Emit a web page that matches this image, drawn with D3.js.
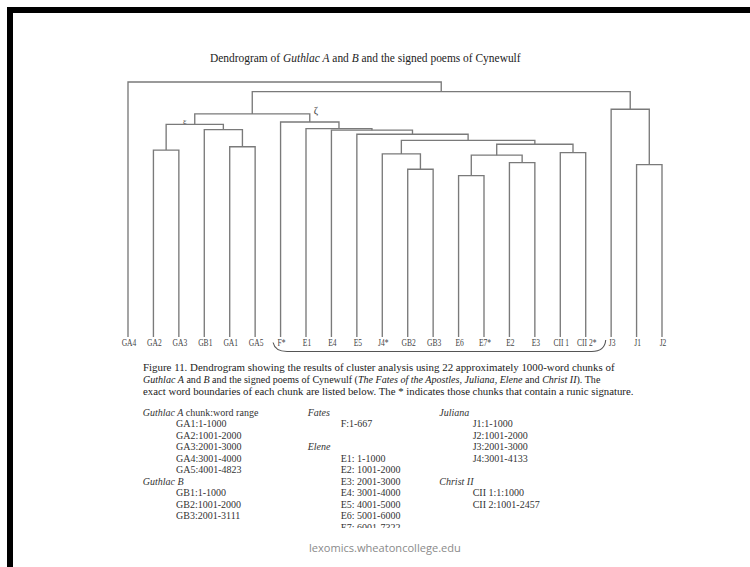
<!DOCTYPE html>
<html>
<head>
<meta charset="utf-8">
<script src="https://cdn.jsdelivr.net/npm/d3@7"></script>
<style>
  html, body { margin: 0; padding: 0; background: #fff; }
  svg { display: block; }
  text { font-family: "Liberation Serif", "DejaVu Serif", serif; }
</style>
</head>
<body>
<svg id="chart" width="750" height="567"></svg>
<script>
// ---------------- DATA ----------------
const leafLabels = ["GA4","GA2","GA3","GB1","GA1","GA5","F*","E1","E4","E5","J4*",
                    "GB2","GB3","E6","E7*","E2","E3","CII 1","CII 2*","J3","J1","J2"];

// linkage: [left, right, height]  (ids "m#" refer to earlier merges)
const mergeLeft   = ["E6","GB2","J1","E2","m0","J4*","CII 1","GA2","GA1","m4","m5","E5","E4","GB1","E1","m7","F*","m15","J3","m17","GA4"];
const mergeRight  = ["E7*","GB3","J2","E3","m3","m1","CII 2*","GA3","GA5","m6","m9","m10","m11","m8","m12","m13","m14","m16","m2","m18","m19"];
const mergeHeight = [0.633,0.658,0.676,0.684,0.713,0.718,0.723,0.733,0.746,0.756,0.771,0.795,0.811,0.813,0.817,0.834,0.843,0.875,0.893,0.962,1.000];

const nodeTags = [{id:"m15", tag:"ε"}, {id:"m16", tag:"ζ"}];

const titleParts = [["Dendrogram of ",false],["Guthlac A",true],[" and ",false],["B",true],[" and the signed poems of Cynewulf",false]];

const captionLines = [
  [["Figure 11. Dendrogram showing the results of cluster analysis using 22 approximately 1000-word chunks of",false]],
  [["Guthlac A",true],[" and ",false],["B",true],[" and the signed poems of Cynewulf (",false],["The Fates of the Apostles",true],[", ",false],["Juliana",true],[", ",false],["Elene",true],[" and ",false],["Christ II",true],["). The",false]],
  [["exact word boundaries of each chunk are listed below. The * indicates those chunks that contain a runic signature.",false]]
];

// table columns: [text, isHeading]
const colGuthlac = [["Guthlac A|chunk:word range",true],["GA1:1-1000",false],["GA2:1001-2000",false],["GA3:2001-3000",false],["GA4:3001-4000",false],["GA5:4001-4823",false],["Guthlac B|",true],["GB1:1-1000",false],["GB2:1001-2000",false],["GB3:2001-3111",false]];
const colFatesElene = [["Fates|",true],["F:1-667",false],["",false],["Elene|",true],["E1: 1-1000",false],["E2: 1001-2000",false],["E3: 2001-3000",false],["E4: 3001-4000",false],["E5: 4001-5000",false],["E6: 5001-6000",false],["E7: 6001-7322",false]];
const colJulianaChrist = [["Juliana|",true],["J1:1-1000",false],["J2:1001-2000",false],["J3:2001-3000",false],["J4:3001-4133",false],["",false],["Christ II|",true],["CII 1:1:1000",false],["CII 2:1001-2457",false]];

const bracketFrom = "F*", bracketTo = "CII 2*";
const sourceText = "lexomics.wheatoncollege.edu";

// ---------------- BUILD TREE ----------------
const nodes = {};
leafLabels.forEach(l => nodes[l] = {name:l, height:0});
mergeLeft.forEach((l,i) => {
  nodes["m"+i] = {name:"m"+i, height:mergeHeight[i], children:[nodes[l], nodes[mergeRight[i]]]};
});
const root = d3.hierarchy(nodes["m"+(mergeLeft.length-1)]);

const svg = d3.select("#chart");

// frame (black L border)
svg.append("rect").attr("x",7).attr("y",7).attr("width",743).attr("height",6).attr("fill","#000");
svg.append("rect").attr("x",7).attr("y",7).attr("width",6).attr("height",560).attr("fill","#000");

const x = d3.scalePoint().domain(leafLabels).range([128, 662]);
const y = d3.scaleLinear().domain([0, 1]).range([337, 82]);

root.eachAfter(n => {
  if (!n.children) n.px = x(n.data.name);
  else n.px = d3.mean(n.children, c => c.px);
  n.py = y(n.data.height);
});

const g = svg.append("g");
root.descendants().filter(n => n.children).forEach(n => {
  const [a,b] = n.children;
  const p = d3.path();
  p.moveTo(a.px, a.py); p.lineTo(a.px, n.py); p.lineTo(b.px, n.py); p.lineTo(b.px, b.py);
  g.append("path").attr("d", p.toString()).attr("fill","none")
    .attr("stroke","#7a7a7a").attr("stroke-width",1.35);
});

// node tags
nodeTags.forEach(t => {
  const n = root.descendants().find(d => d.data.name === t.id);
  if (t.tag === "ε") {
    svg.append("text").attr("x", n.px - 10).attr("y", n.py - 0.5).attr("font-size",8.5)
      .attr("text-anchor","middle").attr("fill","#555").text(t.tag);
  } else {
    svg.append("text").attr("x", n.px + 4).attr("y", n.py - 8).attr("font-size",10.5)
      .attr("text-anchor","start").attr("fill","#444").text(t.tag);
  }
});

// leaf labels
root.leaves().forEach(l => {
  svg.append("g").attr("transform", `translate(${l.px + 1},346) scale(0.72,1)`)
    .append("text").attr("text-anchor","middle").attr("font-size",10.5).attr("fill","#444")
    .text(l.data.name);
});

// bracket
{
  const x0 = x(bracketFrom) - 7.5, x1 = x(bracketTo) + 20;
  const p = d3.path();
  p.moveTo(x0, 342.5);
  p.quadraticCurveTo(x0 + 2, 351.5, x0 + 14, 351.5);
  p.lineTo(x1 - 14, 351.5);
  p.quadraticCurveTo(x1 - 1, 351.5, x1, 340);
  svg.append("path").attr("d", p.toString()).attr("fill","none").attr("stroke","#555").attr("stroke-width",1.1);
}

function richText(parent, parts, xx, yy, size, fill) {
  const t = parent.append("text").attr("x", xx).attr("y", yy).attr("font-size", size).attr("fill", fill);
  parts.forEach(([s, it]) => t.append("tspan").attr("font-style", it ? "italic" : "normal").text(s));
  return t;
}
function fitWidth(t, target, ax) {
  const w = t.node().getComputedTextLength();
  const k = target / w;
  t.attr("transform", `translate(${ax},0) scale(${k},1) translate(${-ax},0)`);
}

// title
const title = richText(svg, titleParts, 210, 62.5, 12.5, "#222");
fitWidth(title, 311, 210);

// caption
const capW = [472, 458, 491];
captionLines.forEach((parts, i) => {
  const t = richText(svg, parts, 143, 371 + i * 12, 11, "#222");
  fitWidth(t, capW[i], 143);
});

// table
svg.append("clipPath").attr("id","tclip").append("rect").attr("x",0).attr("y",400).attr("width",750).attr("height",128);
const tg = svg.append("g").attr("clip-path","url(#tclip)");
function column(rows, xh, xi) {
  rows.forEach(([s, head], i) => {
    if (!s) return;
    const yy = 415.8 + i * 11.5;
    if (head) {
      const [it, rest] = s.split("|");
      const t = tg.append("text").attr("x", xh).attr("y", yy).attr("font-size", 10).attr("fill","#333");
      t.append("tspan").attr("font-style","italic").text(it);
      if (rest) t.append("tspan").text(" " + rest);
    } else {
      tg.append("text").attr("x", xi).attr("y", yy).attr("font-size", 10).attr("fill","#333").text(s);
    }
  });
}
column(colGuthlac, 142.7, 176);
column(colFatesElene, 307.7, 340.7);
column(colJulianaChrist, 439.3, 472.7);

// source
const src = svg.append("text").attr("x", 309).attr("y", 552).attr("font-size", 11)
  .attr("fill","#8a8a8a").style("font-family","'Open Sans', sans-serif").text(sourceText);
fitWidth(src, 152, 309);
</script>
</body>
</html>
